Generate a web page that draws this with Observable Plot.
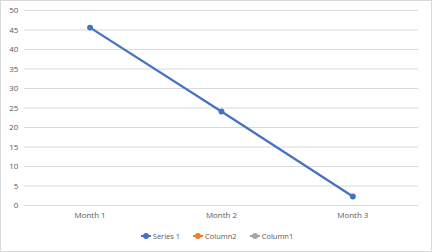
<!DOCTYPE html>
<html>
<head>
<meta charset="utf-8">
<script src="https://cdn.jsdelivr.net/npm/d3@7"></script>
<script src="https://cdn.jsdelivr.net/npm/@observablehq/plot@0.6"></script>
<style>
  html, body { margin: 0; padding: 0; background: #fff; }
  #chart { width: 432px; height: 252px; box-sizing: border-box; border: 1px solid #d9d9d9; position: relative; overflow: hidden; font-family: "Open Sans", "Noto Sans", sans-serif; }
  #chart svg { position: absolute; left: -1px; top: -1px; }
  #legend { position: absolute; left: 0px; top: 230px; width: 432px; display: flex; justify-content: center; gap: 13px; font-size: 7.5px; color: #595959; }
  .item { display: flex; align-items: center; gap: 2px; }
</style>
</head>
<body>
<div id="chart"></div>
<script>
const months = ["Month 1", "Month 2", "Month 3"];
const series1 = [45.6, 24.1, 2.3];
const seriesNames = ["Series 1", "Column2", "Column1"];
const seriesColors = ["#4472C4", "#ED7D31", "#A5A5A5"];
const yTicks = [0, 5, 10, 15, 20, 25, 30, 35, 40, 45, 50];

const data = months.map((m, i) => ({month: m, value: series1[i]}));

const plot = Plot.plot({
  width: 432,
  height: 228,
  marginTop: 10,
  marginLeft: 24,
  marginRight: 12,
  marginBottom: 22,
  style: {fontFamily: "'Open Sans', 'Noto Sans', sans-serif", fontSize: "8px", color: "#595959", background: "transparent"},
  x: {type: "point", domain: months, padding: 0.5, label: null, tickSize: 0, tickPadding: 7},
  y: {domain: [0, 50], ticks: yTicks, label: null, tickSize: 0, tickPadding: 6},
  marks: [
    Plot.gridY(yTicks, {stroke: "#d9d9d9", strokeOpacity: 1, strokeWidth: 1}),
    Plot.axisY({ticks: yTicks, tickSize: 0, tickPadding: 6, label: null, fill: "#595959"}),
    Plot.axisX({tickSize: 0, tickPadding: 7, label: null, fill: "#595959"}),
    Plot.line(data, {x: "month", y: "value", stroke: seriesColors[0], strokeWidth: 2.25}),
    Plot.dot(data, {x: "month", y: "value", fill: seriesColors[0], r: 3})
  ]
});
const chart = document.getElementById("chart");
chart.appendChild(plot);

const legend = document.createElement("div");
legend.id = "legend";
seriesNames.forEach((name, i) => {
  const item = document.createElement("div");
  item.className = "item";
  item.innerHTML = `<svg width="10" height="8" style="position:static"><line x1="0" x2="10" y1="4" y2="4" stroke="${seriesColors[i]}" stroke-width="2"/><circle cx="5" cy="4" r="3" fill="${seriesColors[i]}"/></svg><span>${name}</span>`;
  legend.appendChild(item);
});
chart.appendChild(legend);
</script>
</body>
</html>
